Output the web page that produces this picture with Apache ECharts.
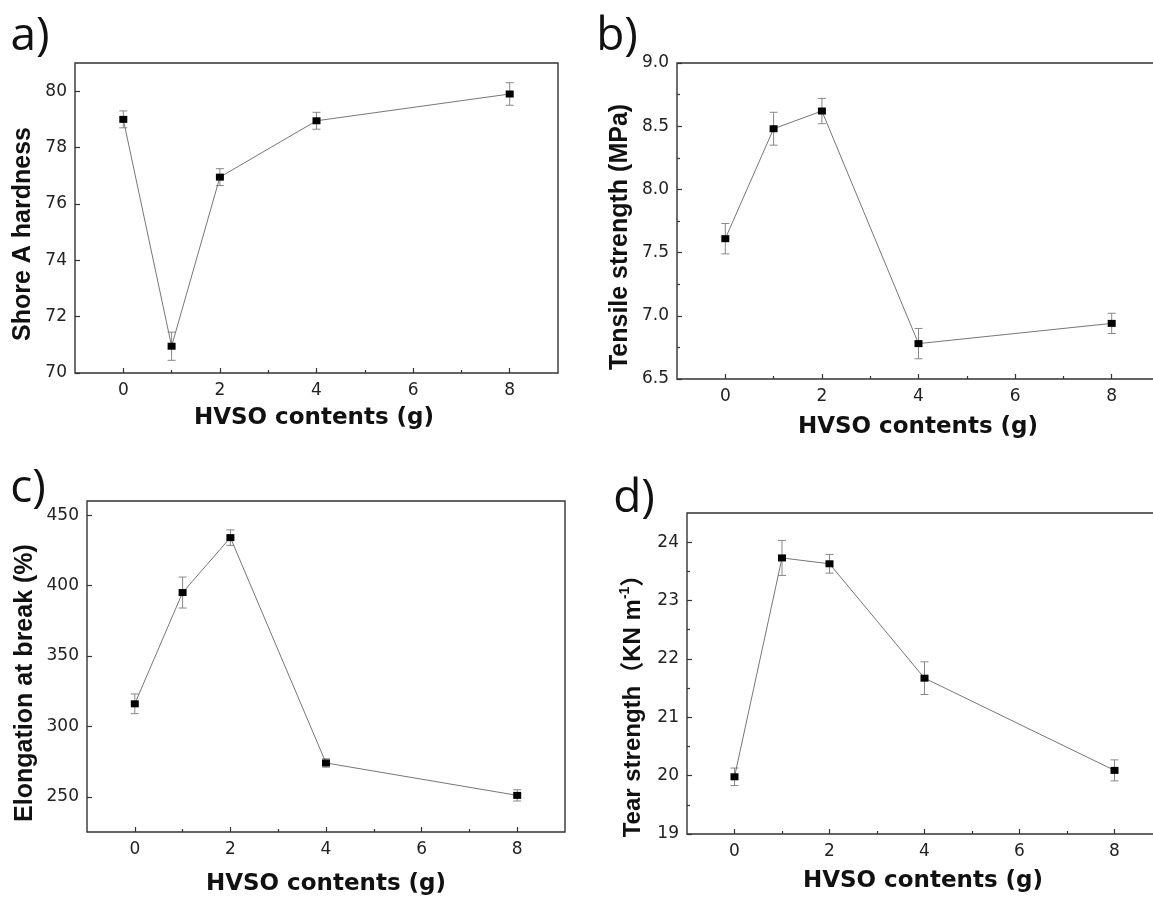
<!DOCTYPE html>
<html>
<head>
<meta charset="utf-8">
<script src="https://cdn.jsdelivr.net/npm/echarts@6/dist/echarts.min.js"></script>
<style>
  html, body { margin: 0; padding: 0; background: #fff; }
  #chart { width: 1153px; height: 898px; }
</style>
</head>
<body>
<div id="chart"></div>
<script>
// HVSO contents (g)
const hvso = [0, 1, 2, 4, 8]

// a) Shore A hardness
const hardness = [79.0, 70.95, 76.95, 78.95, 79.9]
const hardnessErr = [0.3, 0.5, 0.3, 0.3, 0.4]
// b) Tensile strength (MPa)
const tensile = [7.61, 8.48, 8.62, 6.78, 6.94]
const tensileErr = [0.12, 0.13, 0.10, 0.12, 0.08]
// c) Elongation at break (%)
const elongation = [316, 395, 434, 274, 251]
const elongationErr = [7, 11, 5.5, 3, 4]
// d) Tear strength (KN m-1)
const tear = [19.98, 23.73, 23.63, 21.67, 20.09]
const tearErr = [0.15, 0.3, 0.16, 0.28, 0.18]

// tick values
const xMajor = [0, 2, 4, 6, 8]
const xMinor = [1, 3, 5, 7]
const yTicksA = [70, 72, 74, 76, 78, 80]
const yTicksB = [6.5, 7.0, 7.5, 8.0, 8.5, 9.0]
const yMinorB = [6.75, 7.25, 7.75, 8.25, 8.75]
const yTicksC = [250, 300, 350, 400, 450]
const yTicksD = [19, 20, 21, 22, 23, 24]
const yMinorD = [19.5, 20.5, 21.5, 22.5, 23.5]

const axisColor = '#333'
const tickFont = { fontFamily: 'DejaVu Sans', fontSize: 17, color: '#222' }

const panels = [
  { grid: { left: 75, top: 63, width: 483, height: 310 }, yMin: 70, yMax: 81, yTicks: yTicksA, yMinor: [], values: hardness, errs: hardnessErr, digits: 0 },
  { grid: { left: 677, top: 63, width: 483, height: 316 }, yMin: 6.5, yMax: 9.0, yTicks: yTicksB, yMinor: yMinorB, values: tensile, errs: tensileErr, digits: 1 },
  { grid: { left: 87, top: 501, width: 478, height: 331 }, yMin: 225, yMax: 460, yTicks: yTicksC, yMinor: [], values: elongation, errs: elongationErr, digits: 0 },
  { grid: { left: 687, top: 513, width: 475, height: 321 }, yMin: 19, yMax: 24.5, yTicks: yTicksD, yMinor: yMinorD, values: tear, errs: tearErr, digits: 0 }
]

const grids = []
const xAxes = []
const yAxes = []
const series = []

const tickLine = { color: axisColor, width: 1.2 }

panels.forEach((p, i) => {
  grids.push(Object.assign({
    show: true,
    borderColor: axisColor,
    borderWidth: 1.4,
    backgroundColor: 'transparent',
    containLabel: false,
    outerBoundsMode: 'none'
  }, p.grid))

  // labelled x axis (major ticks) + an unlabelled one for the short ticks
  xAxes.push({
    gridIndex: i, type: 'value', min: -1, max: 9, position: 'bottom',
    axisLine: { show: false, onZero: false },
    splitLine: { show: false },
    axisTick: { show: true, inside: true, length: 5, customValues: xMajor, lineStyle: tickLine },
    axisLabel: Object.assign({ customValues: xMajor, margin: 9 }, tickFont)
  })
  xAxes.push({
    gridIndex: i, type: 'value', min: -1, max: 9, position: 'bottom',
    axisLine: { show: false, onZero: false },
    splitLine: { show: false },
    axisTick: { show: true, inside: true, length: 3, customValues: xMinor, lineStyle: tickLine },
    axisLabel: { show: false }
  })

  yAxes.push({
    gridIndex: i, type: 'value', min: p.yMin, max: p.yMax, position: 'left',
    axisLine: { show: false, onZero: false },
    splitLine: { show: false },
    axisTick: { show: true, inside: true, length: 5, customValues: p.yTicks, lineStyle: tickLine },
    axisLabel: Object.assign({
      customValues: p.yTicks, margin: 8,
      formatter: v => Number(v).toFixed(p.digits)
    }, tickFont)
  })
  yAxes.push({
    gridIndex: i, type: 'value', min: p.yMin, max: p.yMax, position: 'left',
    axisLine: { show: false, onZero: false },
    splitLine: { show: false },
    axisTick: { show: p.yMinor.length > 0, inside: true, length: 3, customValues: p.yMinor, lineStyle: tickLine },
    axisLabel: { show: false }
  })

  // error bars
  series.push({
    type: 'custom',
    xAxisIndex: i * 2,
    yAxisIndex: i * 2,
    z: 2,
    silent: true,
    data: hvso.map((x, k) => [x, p.values[k] - p.errs[k], p.values[k] + p.errs[k]]),
    encode: { x: 0, y: [1, 2] },
    renderItem (params, api) {
      const x = api.value(0)
      const top = api.coord([x, api.value(2)])
      const bot = api.coord([x, api.value(1)])
      const w = 4
      const style = { stroke: '#888', lineWidth: 1 }
      return {
        type: 'group',
        children: [
          { type: 'line', shape: { x1: top[0], y1: top[1], x2: bot[0], y2: bot[1] }, style },
          { type: 'line', shape: { x1: top[0] - w, y1: top[1], x2: top[0] + w, y2: top[1] }, style },
          { type: 'line', shape: { x1: bot[0] - w, y1: bot[1], x2: bot[0] + w, y2: bot[1] }, style }
        ]
      }
    }
  })

  series.push({
    type: 'line',
    xAxisIndex: i * 2,
    yAxisIndex: i * 2,
    z: 3,
    data: hvso.map((x, k) => [x, p.values[k]]),
    symbol: 'rect',
    symbolSize: [8, 7],
    itemStyle: { color: '#000' },
    lineStyle: { color: '#777', width: 1 },
    animation: false
  })
})

const panelFont = '46px "Open Sans"'
const xTitleFont = 'bold 23px "DejaVu Sans"'
const yTitleFont = 'bold 25px "Liberation Sans", "Noto Sans CJK SC"'

function label (text, x, y, font, rotation) {
  return {
    type: 'text', x, y, rotation: rotation || 0,
    style: { text, font, fill: '#111', align: 'center', verticalAlign: 'middle' }
  }
}

const graphics = [
  label('a)', 30, 37, panelFont),
  label('b)', 617, 37, panelFont),
  label('c)', 28, 489, panelFont),
  label('d)', 634, 499, panelFont),

  label('HVSO contents (g)', 314, 418, xTitleFont),
  label('HVSO contents (g)', 918, 427, xTitleFont),
  label('HVSO contents (g)', 326, 884, xTitleFont),
  label('HVSO contents (g)', 923, 881, xTitleFont),

  label('Shore A hardness', 23, 234, yTitleFont, Math.PI / 2),
  label('Tensile strength (MPa)', 620, 237, yTitleFont, Math.PI / 2),
  label('Elongation at break (%)', 25, 683, yTitleFont, Math.PI / 2),
  {
    type: 'text', x: 633, y: 700, rotation: Math.PI / 2,
    style: {
      text: '{t|Tear strength（KN m}{s|-1}{t|）}',
      fill: '#111', align: 'center', verticalAlign: 'middle',
      rich: {
        t: { fontSize: 24, fontWeight: 'bold', fontFamily: '"Liberation Sans", "Noto Sans CJK SC"', lineHeight: 30 },
        s: { fontSize: 14, fontWeight: 'bold', fontFamily: '"Liberation Sans"', verticalAlign: 'top', lineHeight: 30 }
      }
    }
  }
]

const chart = echarts.init(document.getElementById('chart'))
chart.setOption({
  animation: false,
  backgroundColor: '#fff',
  grid: grids,
  xAxis: xAxes,
  yAxis: yAxes,
  series,
  graphic: graphics
})
</script>
</body>
</html>
